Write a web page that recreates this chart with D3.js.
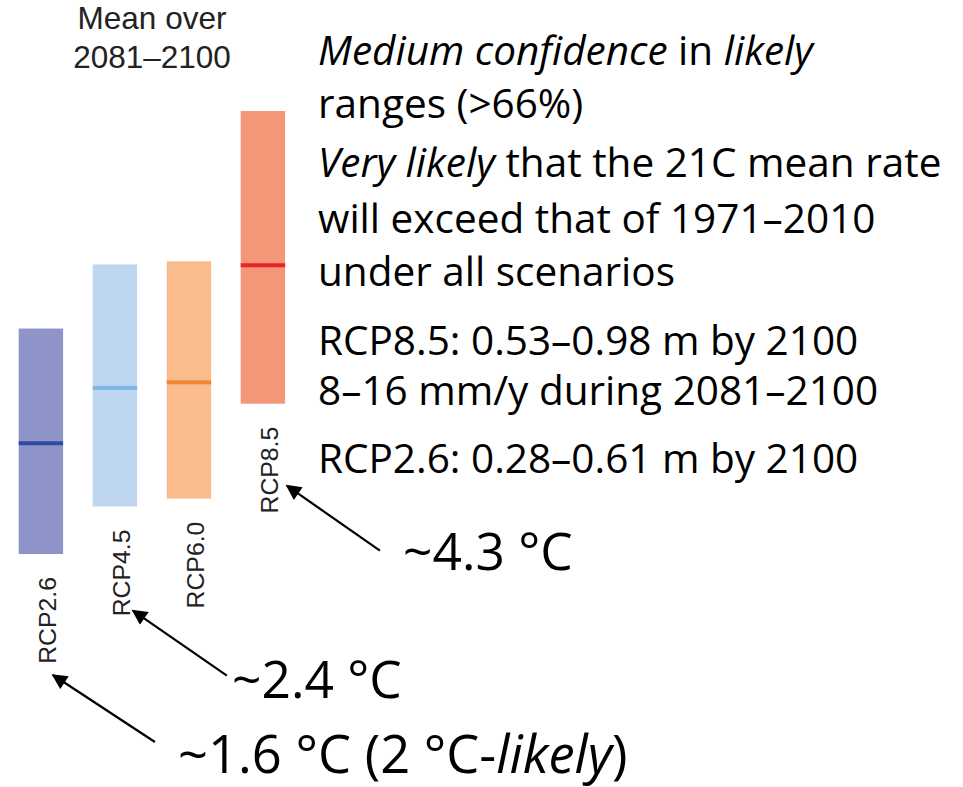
<!DOCTYPE html>
<html>
<head>
<meta charset="utf-8">
<script src="https://cdn.jsdelivr.net/npm/d3@7"></script>
<style>
  html, body { margin: 0; padding: 0; background: #fff; }
  svg { display: block; }
</style>
</head>
<body>
<svg id="chart" width="963" height="787"></svg>
<script>
// Global mean sea level rise, 2081–2100 relative to 1986–2005 (m)
const scenarios = ["RCP2.6", "RCP4.5", "RCP6.0", "RCP8.5"];
const rangeLow  = [0.26, 0.32, 0.33, 0.45];
const rangeHigh = [0.545, 0.626, 0.63, 0.82];
const medians   = [0.40, 0.47, 0.477, 0.625];
const warming   = ["~1.6 °C", "~2.4 °C", null, "~4.3 °C"];

const barColors    = ["#8e94c8", "#bed6ef", "#fbbc8d", "#f49678"];
const medianColors = ["#2f4ba0", "#7fb6e2", "#f08533", "#e8232b"];

const svg = d3.select("#chart");

const x = d3.scaleBand()
  .domain(scenarios)
  .range([18.7, 285.1])
  .paddingInner(0.4)
  .paddingOuter(0);

const y = d3.scaleLinear()
  .domain([0.26, 0.82])
  .range([554, 111]);

const rows = scenarios.map((s, i) => ({
  s, lo: rangeLow[i], hi: rangeHigh[i], med: medians[i],
  fill: barColors[i], medFill: medianColors[i], warm: warming[i]
}));

// Panel heading
const head = svg.append("text")
  .attr("x", 152)
  .attr("text-anchor", "middle")
  .style("font-family", "'Liberation Sans', Arial, sans-serif")
  .style("font-size", "31.5px")
  .attr("fill", "#222");
head.append("tspan").attr("x", 152).attr("y", 29).text("Mean over");
head.append("tspan").attr("x", 152).attr("y", 68).text("2081–2100");

// Likely ranges
svg.append("g").selectAll("rect")
  .data(rows).join("rect")
  .attr("x", d => x(d.s))
  .attr("width", x.bandwidth())
  .attr("y", d => y(d.hi))
  .attr("height", d => y(d.lo) - y(d.hi))
  .attr("fill", d => d.fill);

// Median lines
svg.append("g").selectAll("rect")
  .data(rows).join("rect")
  .attr("x", d => x(d.s))
  .attr("width", x.bandwidth())
  .attr("y", d => y(d.med) - 2)
  .attr("height", 4)
  .attr("fill", d => d.medFill);

// Scenario labels below each range
svg.append("g").selectAll("text")
  .data(rows).join("text")
  .attr("transform", d => `translate(${x(d.s) + x.bandwidth() / 2 + 15},${y(d.lo) + 23}) rotate(-90)`)
  .attr("text-anchor", "end")
  .style("font-family", "'Liberation Sans', Arial, sans-serif")
  .style("font-size", "24.8px")
  .attr("fill", "#222")
  .text(d => d.s);

// Right-hand notes
const noteFont = "'Open Sans', 'Noto Sans', sans-serif";
const notes = svg.append("g")
  .style("font-family", noteFont)
  .style("font-size", "40.5px")
  .attr("fill", "#000");

const noteLines = [
  { y: 65,  parts: [["Medium confidence", true], [" in ", false], ["likely", true]] },
  { y: 118, parts: [["ranges (>66%)", false]] },
  { y: 177, parts: [["Very likely", true], [" that the 21C mean rate", false]] },
  { y: 233, parts: [["will exceed that of 1971–2010", false]] },
  { y: 286, parts: [["under all scenarios", false]] },
  { y: 355, parts: [["RCP8.5: 0.53–0.98 m by 2100", false]] },
  { y: 405, parts: [["8–16 mm/y during 2081–2100", false]] },
  { y: 473, parts: [["RCP2.6: 0.28–0.61 m by 2100", false]] }
];
noteLines.forEach(line => {
  const t = notes.append("text").attr("x", 318).attr("y", line.y);
  line.parts.forEach(([str, it]) => {
    t.append("tspan")
      .style("font-style", it ? "italic" : "normal")
      .text(str);
  });
});

// Warming annotations with arrows pointing at scenario labels
const defs = svg.append("defs");
defs.append("marker")
  .attr("id", "head")
  .attr("viewBox", "0 0 10 10")
  .attr("refX", 9).attr("refY", 5)
  .attr("markerWidth", 8).attr("markerHeight", 7)
  .attr("markerUnits", "strokeWidth")
  .attr("orient", "auto")
  .append("path")
  .attr("d", "M0,0 L10,5 L0,10 Z")
  .attr("fill", "#000");

const annotLayout = {
  "RCP2.6": { tx: 178, ty: 773, tip: [12, 121], tail: [114, 188] },
  "RCP4.5": { tx: 232, ty: 698, tip: [18, 104], tail: [112, 169] },
  "RCP8.5": { tx: 403, ty: 570, tip: [24, 82],  tail: [117, 147] }
};

const ann = svg.append("g");
rows.filter(d => d.warm).forEach(d => {
  const L = annotLayout[d.s];
  const cx = x(d.s) + x.bandwidth() / 2;
  const by = y(d.lo);
  ann.append("line")
    .attr("x1", cx + L.tail[0]).attr("y1", by + L.tail[1])
    .attr("x2", cx + L.tip[0]).attr("y2", by + L.tip[1])
    .attr("stroke", "#000")
    .attr("stroke-width", 2.2)
    .attr("marker-end", "url(#head)");
  const t = ann.append("text")
    .attr("x", L.tx).attr("y", L.ty)
    .style("font-family", noteFont)
    .style("font-size", d.s === "RCP2.6" ? "52.5px" : "51.5px")
    .attr("fill", "#000");
  t.append("tspan").text(d.warm);
  if (d.s === "RCP2.6") {
    t.append("tspan").text(" (2 °C-");
    t.append("tspan").style("font-style", "italic").text("likely");
    t.append("tspan").text(")");
  }
});
</script>
</body>
</html>
